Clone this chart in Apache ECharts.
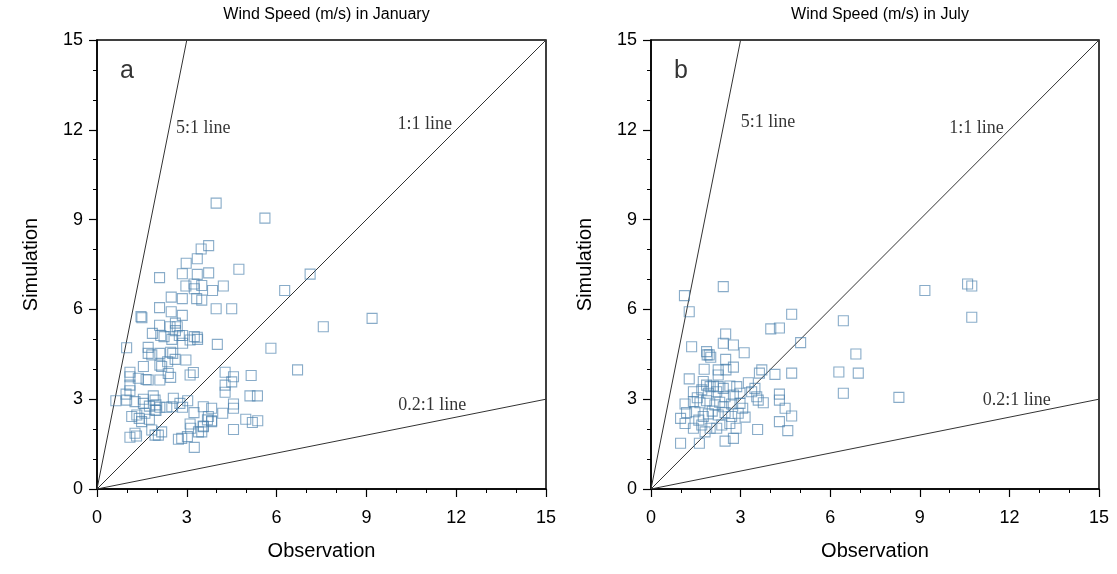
<!DOCTYPE html>
<html>
<head>
<meta charset="utf-8">
<title>Wind Speed</title>
<script src="https://cdn.jsdelivr.net/npm/echarts@6/dist/echarts.min.js"></script>
<style>
  html, body { margin: 0; padding: 0; background: #fff; }
  #chart { width: 1117px; height: 574px; }
</style>
</head>
<body>
<div id="chart"></div>
<script>
// tick labels shared by both panels
var tickValues = [0, 3, 6, 9, 12, 15]

// January: [observation, simulation]
var janPoints = [
  [3.98, 9.55], [5.61, 9.05], [3.73, 8.13], [3.48, 8.02], [3.35, 7.69], [2.98, 7.54],
  [2.85, 7.19], [3.35, 7.17], [3.73, 7.22], [4.74, 7.34], [2.09, 7.06], [7.12, 7.18],
  [6.27, 6.63], [2.97, 6.78], [3.24, 6.85], [3.25, 6.69], [3.50, 6.80], [4.22, 6.78],
  [3.86, 6.63], [2.48, 6.41], [2.85, 6.36], [3.33, 6.36], [3.50, 6.31], [2.09, 6.06],
  [2.48, 5.92], [3.98, 6.02], [4.50, 6.02], [1.47, 5.76], [1.50, 5.72], [2.85, 5.80],
  [2.09, 5.47], [2.44, 5.42], [2.62, 5.54], [2.68, 5.42], [2.62, 5.29], [7.56, 5.42],
  [9.19, 5.70], [1.85, 5.20], [2.13, 5.13], [2.24, 5.09], [2.75, 5.13], [2.86, 5.13],
  [3.25, 5.09], [3.35, 5.07], [2.50, 5.00], [2.86, 4.87], [3.11, 4.98], [3.36, 5.00],
  [0.99, 4.72], [4.02, 4.83], [5.81, 4.70], [1.71, 4.73], [1.71, 4.53], [1.83, 4.48],
  [2.10, 4.53], [2.46, 4.57], [2.53, 4.53], [2.61, 4.33], [2.36, 4.25], [2.97, 4.31],
  [1.55, 4.09], [2.10, 4.14], [2.16, 4.09], [6.70, 3.98], [1.10, 3.90], [1.10, 3.75],
  [1.38, 3.70], [1.64, 3.66], [1.71, 3.64], [2.10, 3.64], [2.38, 3.86], [2.46, 3.73],
  [3.11, 3.81], [3.22, 3.89], [4.28, 3.90], [4.56, 3.75], [4.50, 3.58], [4.28, 3.47],
  [4.28, 3.23], [5.15, 3.79], [5.11, 3.11], [5.36, 3.11], [1.10, 3.47], [1.10, 3.28],
  [0.97, 3.17], [0.99, 2.97], [0.63, 2.95], [1.27, 2.92], [1.55, 3.00], [1.55, 2.86],
  [1.88, 3.11], [1.94, 2.97], [1.97, 2.81], [1.94, 2.64], [1.75, 2.77], [1.16, 2.42],
  [1.33, 2.47], [1.41, 2.36], [1.49, 2.25], [1.60, 2.53], [1.75, 2.33], [1.97, 2.62],
  [2.10, 2.73], [2.33, 2.73], [2.55, 3.03], [2.50, 2.75], [2.77, 2.86], [2.86, 2.73],
  [3.03, 2.95], [3.55, 2.75], [3.83, 2.70], [3.24, 2.55], [3.72, 2.42], [3.69, 2.31],
  [3.11, 2.17], [3.13, 2.03], [3.39, 1.91], [3.55, 2.08], [3.83, 2.28], [4.20, 2.53],
  [4.56, 2.84], [4.56, 2.70], [3.83, 2.25], [3.55, 2.10], [3.50, 1.91], [1.10, 1.73],
  [1.27, 1.86], [1.32, 1.77], [1.83, 1.97], [1.94, 1.80], [2.05, 1.80], [2.16, 1.91],
  [2.72, 1.66], [2.83, 1.69], [3.02, 1.75], [3.25, 1.39], [4.56, 1.99], [4.97, 2.33],
  [5.19, 2.22], [5.37, 2.28]
]

// July: [observation, simulation]
var julPoints = [
  [1.12, 6.46], [2.42, 6.76], [1.28, 5.92], [4.71, 5.84], [6.44, 5.62], [4.01, 5.35],
  [4.30, 5.38], [2.50, 5.18], [5.01, 4.89], [2.42, 4.87], [2.76, 4.81], [1.36, 4.75],
  [1.86, 4.59], [1.95, 4.48], [2.00, 4.40], [1.88, 4.48], [3.12, 4.55], [6.86, 4.51],
  [2.50, 4.33], [2.76, 4.07], [2.51, 3.98], [2.25, 3.98], [2.25, 3.81], [1.78, 4.00],
  [3.71, 3.98], [3.63, 3.87], [4.15, 3.83], [4.71, 3.87], [6.29, 3.91], [6.94, 3.87],
  [1.28, 3.68], [1.75, 3.59], [1.86, 3.47], [1.98, 3.42], [2.09, 3.44], [2.25, 3.42],
  [2.42, 3.36], [2.64, 3.44], [2.87, 3.42], [3.26, 3.55], [3.48, 3.36], [6.44, 3.20],
  [4.30, 3.17], [1.42, 3.25], [1.70, 3.31], [1.92, 3.20], [2.20, 3.25], [2.48, 3.08],
  [2.76, 3.14], [2.98, 3.20], [3.37, 3.25], [3.54, 3.08], [3.59, 2.97], [3.76, 2.88],
  [4.30, 2.97], [1.14, 2.84], [1.42, 2.92], [1.64, 2.88], [1.86, 2.95], [2.14, 2.81],
  [2.42, 2.75], [2.70, 2.84], [2.98, 2.86], [3.07, 2.70], [1.19, 2.55], [1.47, 2.58],
  [1.75, 2.42], [1.92, 2.51], [2.25, 2.47], [2.48, 2.55], [2.70, 2.42], [2.92, 2.53],
  [3.15, 2.40], [4.49, 2.70], [4.71, 2.44], [0.99, 2.36], [1.14, 2.19], [1.42, 2.03],
  [1.70, 2.14], [1.81, 1.91], [1.98, 2.03], [2.20, 2.03], [2.37, 2.14], [2.64, 2.19],
  [2.85, 2.03], [4.30, 2.25], [4.58, 1.95], [3.57, 1.99], [2.48, 1.60], [2.76, 1.69],
  [1.62, 1.53], [0.99, 1.53], [1.60, 2.30], [2.05, 2.60], [2.30, 2.90], [1.55, 3.05],
  [9.17, 6.63], [10.60, 6.85], [10.74, 6.78], [10.74, 5.74], [8.30, 3.06]
]

// reference lines through the origin
var line5to1 = [[0, 0], [3, 15]]
var line1to1 = [[0, 0], [15, 15]]
var line02to1 = [[0, 0], [15, 3]]

// annotation anchors, in data units: [x, y, text]
var janNotes = [[3.55, 12.05, '5:1 line'], [10.95, 12.2, '1:1 line'], [11.2, 2.8, '0.2:1 line']]
var julNotes = [[3.92, 12.25, '5:1 line'], [10.9, 12.05, '1:1 line'], [12.25, 2.95, '0.2:1 line']]
var panelTags = ['a', 'b']
var titles = ['Wind Speed (m/s) in January', 'Wind Speed (m/s) in July']

var chart = echarts.init(document.getElementById('chart'))

var grids = [
  { left: 97, top: 40, width: 449, height: 449 },
  { left: 651, top: 40, width: 448, height: 449 }
]

function valueAxis(idx, name, isY) {
  return {
    type: 'value',
    gridIndex: idx,
    min: 0,
    max: 15,
    interval: 3,
    name: name,
    nameLocation: 'middle',
    nameGap: isY ? 56 : 52,
    nameTextStyle: { fontFamily: 'Liberation Sans', fontSize: 20, color: '#000' },
    axisLine: { show: true, onZero: false, lineStyle: { color: '#000', width: 1.5 } },
    axisTick: { show: true, inside: false, length: 8, lineStyle: { color: '#000', width: 1.2 } },
    minorTick: { show: true, splitNumber: 3, length: 4, lineStyle: { color: '#000', width: 1 } },
    axisLabel: {
      fontFamily: 'Liberation Sans', fontSize: 18, color: '#000', margin: isY ? 14 : 20,
      formatter: function (v) { return tickValues.indexOf(v) >= 0 ? String(v) : '' }
    },
    splitLine: { show: false }
  }
}

function refLine(idx, data) {
  return {
    type: 'line',
    xAxisIndex: idx,
    yAxisIndex: idx,
    data: data,
    symbol: 'none',
    silent: true,
    lineStyle: { color: '#333', width: 1 },
    z: 1
  }
}

function notes(idx, list) {
  return {
    type: 'scatter',
    xAxisIndex: idx,
    yAxisIndex: idx,
    symbolSize: 0,
    silent: true,
    data: list.map(function (n) { return { value: [n[0], n[1]], name: n[2] } }),
    label: {
      show: true,
      position: 'inside',
      formatter: '{b}',
      fontFamily: 'Liberation Serif',
      fontSize: 18,
      color: '#000'
    }
  }
}

function points(idx, data) {
  return {
    type: 'scatter',
    xAxisIndex: idx,
    yAxisIndex: idx,
    data: data,
    symbol: 'rect',
    symbolSize: 10,
    itemStyle: { color: 'rgba(255,255,255,0)', borderColor: 'rgba(70,125,170,0.8)', borderWidth: 1.1 },
    z: 3
  }
}

function tag(idx) {
  return {
    type: 'scatter', xAxisIndex: idx, yAxisIndex: idx, symbolSize: 0, silent: true,
    data: [{ value: [1.0, 13.95], name: panelTags[idx] }],
    label: { show: true, position: 'inside', formatter: '{b}', fontFamily: 'Liberation Sans', fontSize: 25, color: '#000' }
  }
}

chart.setOption({
  animation: false,
  backgroundColor: '#fff',
  title: [0, 1].map(function (i) {
    return {
      text: titles[i],
      left: grids[i].left + grids[i].width / 2,
      textAlign: 'center',
      top: 2,
      textStyle: { fontFamily: 'Liberation Sans', fontSize: 16, fontWeight: 'normal', color: '#000' }
    }
  }),
  grid: grids.map(function (g) {
    return Object.assign({ show: true, borderColor: '#000', borderWidth: 1.5, backgroundColor: '#fff' }, g)
  }),
  xAxis: [valueAxis(0, 'Observation', false), valueAxis(1, 'Observation', false)],
  yAxis: [valueAxis(0, 'Simulation', true), valueAxis(1, 'Simulation', true)],
  series: [
    refLine(0, line5to1), refLine(0, line1to1), refLine(0, line02to1),
    refLine(1, line5to1), refLine(1, line1to1), refLine(1, line02to1),
    points(0, janPoints), points(1, julPoints),
    notes(0, janNotes), notes(1, julNotes),
    tag(0), tag(1)
  ]
})
</script>
</body>
</html>
